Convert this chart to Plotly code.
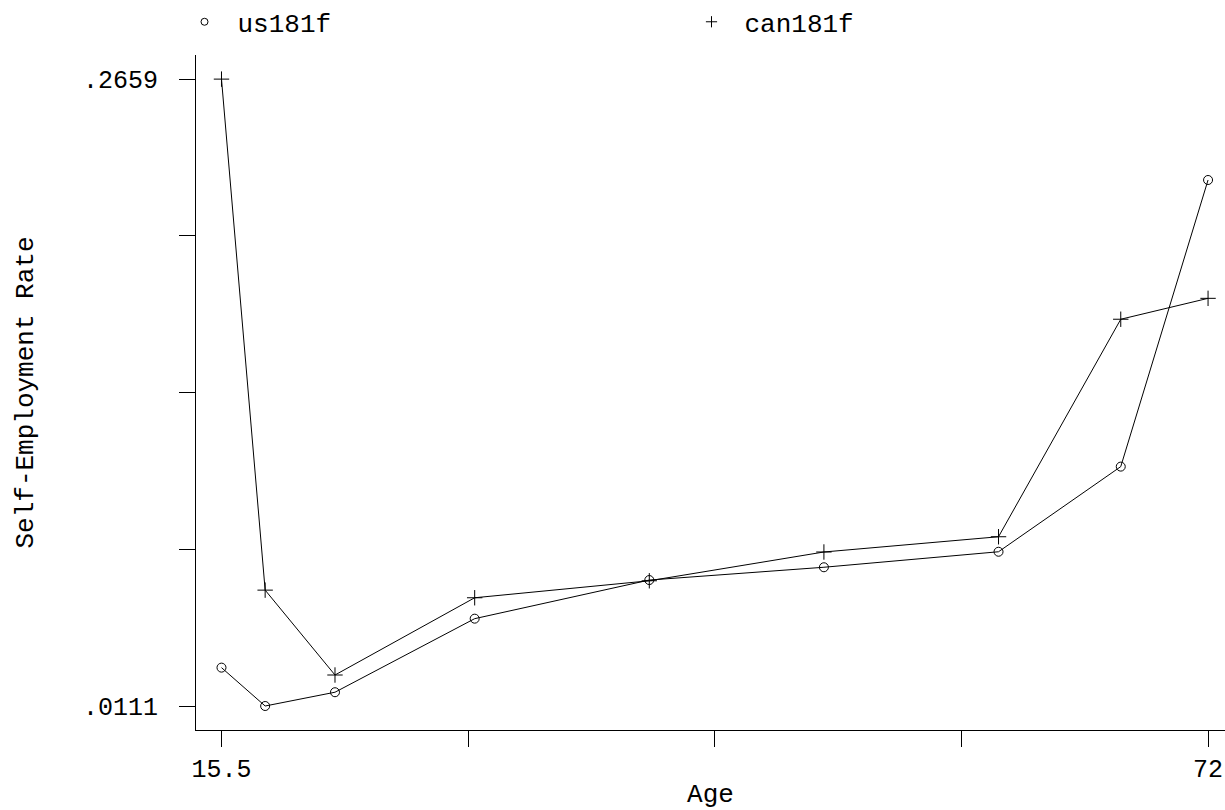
import plotly.graph_objects as go

age = [15.5, 18, 22, 30, 40, 50, 60, 67, 72]
us181f = [0.0267, 0.0111, 0.0167, 0.0466, 0.0623, 0.0675, 0.0738, 0.1084, 0.2249]
can181f = [0.2659, 0.0582, 0.0237, 0.0551, 0.0620, 0.0737, 0.0799, 0.1683, 0.1768]
series_names = ["us181f", "can181f"]

x_ticks = [15.5, 29.625, 43.75, 57.875, 72]
x_ticktext = ["15.5", "", "", "", "72"]
y_ticks = [0.0111, 0.0748, 0.1385, 0.2022, 0.2659]
y_ticktext = [".0111", "", "", "", ".2659"]

FONT = "Liberation Mono"

fig = go.Figure()
fig.add_trace(go.Scatter(x=age, y=us181f, mode="lines+markers", name=series_names[0],
                         line=dict(color="black", width=1),
                         marker=dict(symbol="circle-open", size=9, color="black", line=dict(width=1)),
                         showlegend=False))
fig.add_trace(go.Scatter(x=age, y=can181f, mode="lines+markers", name=series_names[1],
                         line=dict(color="black", width=1),
                         marker=dict(symbol="cross-thin-open", size=11, color="black", line=dict(width=1)),
                         showlegend=False))
# legend entries (markers only)
fig.add_trace(go.Scatter(x=[None], y=[None], mode="markers", name=series_names[0],
                         marker=dict(symbol="circle-open", size=7, color="black", line=dict(width=1))))
fig.add_trace(go.Scatter(x=[None], y=[None], mode="markers", name=series_names[1],
                         marker=dict(symbol="cross-thin-open", size=8, color="black", line=dict(width=1))))

fig.update_layout(
    width=1225, height=810,
    margin=dict(l=196, r=0, t=55, b=80),
    paper_bgcolor="white", plot_bgcolor="white",
    font=dict(family=FONT, size=26, color="black"),
    legend=dict(orientation="h", x=0.14, xanchor="left", xref="container",
                y=0.973, yanchor="middle", yref="container", font=dict(size=26),
                entrywidth=436, entrywidthmode="pixels", itemwidth=56,
                bgcolor="rgba(0,0,0,0)"),
    xaxis=dict(range=[14.04, 72.97], tickvals=x_ticks, ticktext=x_ticktext,
               showline=True, linecolor="black", linewidth=1, mirror=False,
               ticks="outside", ticklen=16, tickcolor="black", tickwidth=1,
               showgrid=False, zeroline=False, tickfont=dict(size=25),
               title=dict(text="Age", standoff=8, font=dict(size=26))),
    yaxis=dict(range=[0.00135, 0.2757], tickvals=y_ticks, ticktext=y_ticktext,
               showline=True, linecolor="black", linewidth=1, mirror=False,
               ticks="outside", ticklen=16, tickcolor="black", tickwidth=1,
               showgrid=False, zeroline=False, tickfont=dict(size=25),
               ticklabelstandoff=16,
               title=dict(text="Self-Employment Rate", standoff=41, font=dict(size=26))),
)

fig.write_html("out.html")
